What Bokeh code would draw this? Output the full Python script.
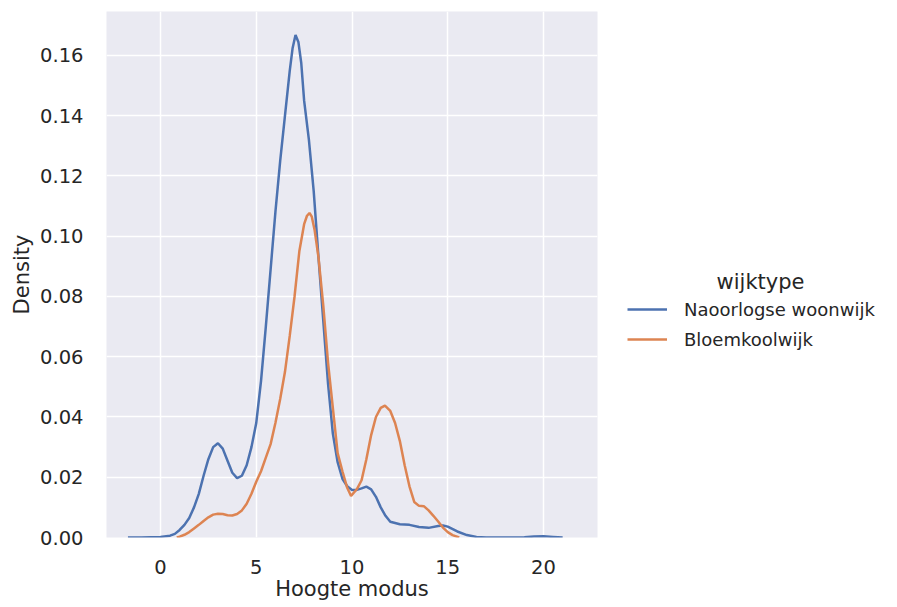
from bokeh.plotting import figure
from bokeh.models import (Range1d, FixedTicker, NumeralTickFormatter, Legend,
                          LegendItem, Label, ColumnDataSource)
from bokeh.layouts import row
from bokeh.embed import file_html
from bokeh.resources import INLINE

# ---- data ----
series_names = ["Naoorlogse woonwijk", "Bloemkoolwijk"]
legend_title = "wijktype"
x_label = "Hoogte modus"
y_label = "Density"

naoorlogse_x = [-1.7, -1.0, -0.5, 0.0, 0.5, 0.75, 1.0, 1.25, 1.5, 1.75, 2.0, 2.25,
                2.5, 2.75, 3.0, 3.25, 3.5, 3.75, 4.0, 4.25, 4.5, 4.75, 5.0, 5.25,
                5.5, 5.75, 6.0, 6.25, 6.5, 6.75, 6.9, 7.05, 7.2, 7.35, 7.5, 7.75,
                8.0, 8.25, 8.5, 8.75, 9.0, 9.25, 9.5, 9.75, 10.0, 10.25, 10.5,
                10.75, 11.0, 11.25, 11.5, 11.75, 12.0, 12.5, 13.0, 13.5, 14.0,
                14.5, 14.75, 15.0, 15.5, 16.0, 16.5, 17.0, 18.5, 19.0, 19.5, 20.0,
                20.5, 21.0]
naoorlogse_y = [0.0, 0.0, 0.0001, 0.0002, 0.0006, 0.0012, 0.0025, 0.0042, 0.0065,
                0.0100, 0.0145, 0.0205, 0.0260, 0.0300, 0.0313, 0.0295, 0.0255,
                0.0215, 0.0197, 0.0205, 0.0240, 0.0300, 0.0380, 0.0520, 0.0700,
                0.0890, 0.1080, 0.1250, 0.1400, 0.1550, 0.1625, 0.1668, 0.1645,
                0.1575, 0.1450, 0.1320, 0.1150, 0.0930, 0.0720, 0.0510, 0.0345,
                0.0250, 0.0195, 0.0170, 0.0158, 0.0158, 0.0163, 0.0169, 0.0160,
                0.0135, 0.0100, 0.0072, 0.0052, 0.0044, 0.0042, 0.0035, 0.0032,
                0.0038, 0.0040, 0.0036, 0.0020, 0.0008, 0.0002, 0.0, 0.0, 0.0001,
                0.0003, 0.0004, 0.0002, 0.0]

bloemkool_x = [0.85, 1.0, 1.25, 1.5, 1.75, 2.0, 2.25, 2.5, 2.75, 3.0, 3.25, 3.5,
               3.75, 4.0, 4.25, 4.5, 4.75, 5.0, 5.25, 5.5, 5.75, 6.0, 6.25, 6.5,
               6.75, 7.0, 7.25, 7.5, 7.65, 7.78, 7.9, 8.05, 8.25, 8.5, 8.75, 9.0,
               9.25, 9.5, 9.75, 9.95, 10.25, 10.5, 10.75, 11.0, 11.25, 11.5,
               11.72, 12.0, 12.25, 12.5, 12.75, 13.0, 13.25, 13.5, 13.75, 14.0,
               14.25, 14.5, 14.75, 15.0, 15.25, 15.6]
bloemkool_y = [0.0, 0.0003, 0.0009, 0.0018, 0.0030, 0.0042, 0.0055, 0.0067, 0.0076,
               0.0079, 0.0078, 0.0074, 0.0073, 0.0078, 0.0090, 0.0112, 0.0145,
               0.0185, 0.0220, 0.0265, 0.0310, 0.0380, 0.0460, 0.0550, 0.0670,
               0.0800, 0.0950, 0.1040, 0.1068, 0.1077, 0.1065, 0.1020, 0.0930,
               0.0770, 0.0580, 0.0430, 0.0280, 0.0220, 0.0165, 0.0138, 0.0160,
               0.0190, 0.0260, 0.0340, 0.0400, 0.0430, 0.0438, 0.0420, 0.0380,
               0.0320, 0.0240, 0.0170, 0.0118, 0.0105, 0.0104, 0.0090, 0.0072,
               0.0053, 0.0033, 0.0018, 0.0008, 0.0]

x_ticks = [0, 5, 10, 15, 20]
y_ticks = [0.00, 0.02, 0.04, 0.06, 0.08, 0.10, 0.12, 0.14, 0.16]

colors = ["#4C72B0", "#DD8452"]
text_color = "#262626"
font = "DejaVu Sans"

H = 606
FRAME_H = 526

# ---- main plot ----
p = figure(width=598, height=H,
           x_range=Range1d(-2.82, 22.82), y_range=Range1d(0, 0.1746),
           output_backend="svg", toolbar_location=None, title=None,
           min_border_left=106, min_border_right=1, min_border_top=11,
           min_border_bottom=H - 11 - FRAME_H,
           background_fill_color="#EAEAF2", border_fill_color="white",
           outline_line_color=None)

src1 = ColumnDataSource(dict(x=naoorlogse_x, y=naoorlogse_y))
src2 = ColumnDataSource(dict(x=bloemkool_x, y=bloemkool_y))
p.line("x", "y", source=src1, line_color=colors[0], line_width=2.5)
p.line("x", "y", source=src2, line_color=colors[1], line_width=2.5)

p.xaxis.ticker = FixedTicker(ticks=x_ticks)
p.yaxis.ticker = FixedTicker(ticks=y_ticks)
p.yaxis.formatter = NumeralTickFormatter(format="0.00")

for ax in (p.xaxis[0], p.yaxis[0]):
    ax.axis_line_color = None
    ax.major_tick_line_color = None
    ax.minor_tick_line_color = None
    ax.major_tick_out = 0
    ax.major_tick_in = 0
    ax.minor_tick_out = 0
    ax.minor_tick_in = 0
    ax.major_label_text_font = font
    ax.major_label_text_font_size = "19.5px"
    ax.major_label_text_color = text_color
    ax.axis_label_text_font = font
    ax.axis_label_text_font_size = "21px"
    ax.axis_label_text_font_style = "normal"
    ax.axis_label_text_color = text_color

p.xaxis.axis_label = x_label
p.yaxis.axis_label = y_label
p.xaxis.major_label_standoff = 22
p.xaxis.axis_label_standoff = 0
p.yaxis.major_label_standoff = 23
p.yaxis.axis_label_standoff = 3

p.xgrid.grid_line_color = "white"
p.ygrid.grid_line_color = "white"
p.xgrid.grid_line_width = 1.5
p.ygrid.grid_line_width = 1.5

# ---- legend panel (separate figure beside the plot; its frame aligns with p's) ----
lw = 283
q = figure(width=lw, height=H, x_range=Range1d(0, lw), y_range=Range1d(0, FRAME_H),
           title=None, output_backend="svg", toolbar_location=None,
           x_axis_location=None, y_axis_location=None,
           min_border_left=0, min_border_right=0, min_border_top=11,
           min_border_bottom=H - 11 - FRAME_H, background_fill_color="white",
           border_fill_color="white", outline_line_color=None)
q.xgrid.visible = False
q.ygrid.visible = False

# legend keys (their points lie outside the visible range)
k1 = q.line(x=[-20, -10], y=[-20, -20], line_color=colors[0], line_width=2.5)
k2 = q.line(x=[-20, -10], y=[-20, -20], line_color=colors[1], line_width=2.5)

legend = Legend(items=[LegendItem(label=series_names[0], renderers=[k1]),
                       LegendItem(label=series_names[1], renderers=[k2])],
                location=(29, 186), orientation="vertical",
                glyph_width=40, glyph_height=24, label_height=24, spacing=6,
                label_standoff=17, padding=0, margin=0,
                border_line_alpha=0, background_fill_alpha=0,
                label_text_font=font, label_text_font_size="18px",
                label_text_color=text_color)
q.add_layout(legend)

title_lbl = Label(x=162, y=256, text=legend_title, text_align="center",
                  text_baseline="middle", text_font=font,
                  text_font_size="21px", text_color=text_color)
q.add_layout(title_lbl)

layout = row(p, q)
open("out.html", "w").write(file_html(layout, INLINE))
